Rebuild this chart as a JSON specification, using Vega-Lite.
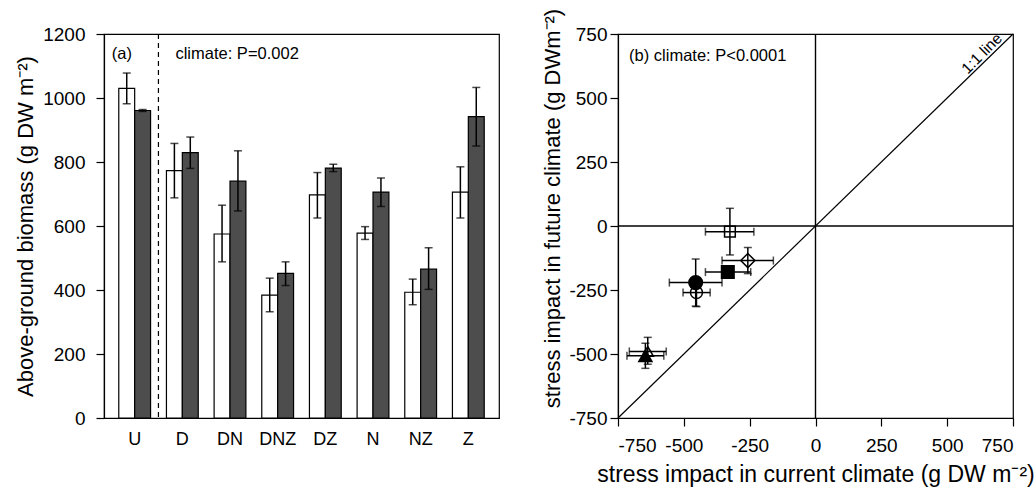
{
  "$schema": "https://vega.github.io/schema/vega-lite/v6.json",
  "background": "white",
  "padding": {"left": 14, "top": 4, "right": 0, "bottom": 0},
  "spacing": 41,
  "resolve": {"scale": {"fill": "independent", "shape": "independent", "size": "independent"}},
  "config": {
    "font": "Liberation Sans",
    "view": {"stroke": "black", "strokeWidth": 1.2},
    "axis": {
      "grid": false,
      "domainColor": "black",
      "domainWidth": 1.2,
      "tickColor": "black",
      "tickWidth": 1.2,
      "tickSize": 8,
      "labelColor": "black",
      "labelFontSize": 19,
      "labelFont": "Liberation Sans",
      "titleColor": "black",
      "titleFontSize": 22,
      "titleFontWeight": "normal",
      "titleFont": "Liberation Sans"
    }
  },
  "hconcat": [
    {
      "width": 395,
      "height": 384,
      "data": {
        "values": [
          {"treatment": "U", "climate": "current", "biomass": 1030, "lo": 982, "hi": 1078},
          {"treatment": "U", "climate": "future", "biomass": 961, "lo": 958, "hi": 964},
          {"treatment": "D", "climate": "current", "biomass": 773, "lo": 688, "hi": 858},
          {"treatment": "D", "climate": "future", "biomass": 829, "lo": 780, "hi": 878},
          {"treatment": "DN", "climate": "current", "biomass": 575, "lo": 488, "hi": 665},
          {"treatment": "DN", "climate": "future", "biomass": 740, "lo": 647, "hi": 835},
          {"treatment": "DNZ", "climate": "current", "biomass": 384, "lo": 332, "hi": 437},
          {"treatment": "DNZ", "climate": "future", "biomass": 452, "lo": 414, "hi": 488},
          {"treatment": "DZ", "climate": "current", "biomass": 697, "lo": 625, "hi": 767},
          {"treatment": "DZ", "climate": "future", "biomass": 781, "lo": 770, "hi": 793},
          {"treatment": "N", "climate": "current", "biomass": 578, "lo": 558, "hi": 598},
          {"treatment": "N", "climate": "future", "biomass": 706, "lo": 661, "hi": 750},
          {"treatment": "NZ", "climate": "current", "biomass": 393, "lo": 354, "hi": 434},
          {"treatment": "NZ", "climate": "future", "biomass": 465, "lo": 402, "hi": 532},
          {"treatment": "Z", "climate": "current", "biomass": 706, "lo": 625, "hi": 785},
          {"treatment": "Z", "climate": "future", "biomass": 942, "lo": 850, "hi": 1033}
        ]
      },
      "layer": [
        {
          "mark": {"type": "bar", "stroke": "black", "strokeWidth": 1.2},
          "encoding": {
            "x": {
              "field": "treatment", "type": "nominal",
              "scale": {"domain": ["U", "D", "DN", "DNZ", "DZ", "N", "NZ", "Z"], "paddingInner": 0.333, "paddingOuter": 0.31},
              "axis": {"title": null, "ticks": false, "labelAngle": 0, "labelPadding": 12, "labelFontSize": 18}
            },
            "xOffset": {"field": "climate", "type": "nominal", "scale": {"domain": ["current", "future"]}},
            "y": {
              "field": "biomass", "type": "quantitative",
              "scale": {"domain": [0, 1200], "nice": false},
              "axis": {"title": "Above-ground biomass (g DW m⁻²)", "values": [0, 200, 400, 600, 800, 1000, 1200], "format": "d", "labelPadding": 11, "titlePadding": 5}
            },
            "fill": {"field": "climate", "type": "nominal", "scale": {"domain": ["current", "future"], "range": ["white", "#4d4d4d"]}, "legend": null}
          }
        },
        {
          "mark": {"type": "rule", "color": "black", "strokeWidth": 1.5},
          "encoding": {
            "x": {"field": "treatment", "type": "nominal", "scale": {"domain": ["U", "D", "DN", "DNZ", "DZ", "N", "NZ", "Z"], "paddingInner": 0.333, "paddingOuter": 0.31}},
            "xOffset": {"field": "climate", "type": "nominal", "scale": {"domain": ["current", "future"]}},
            "y": {"field": "lo", "type": "quantitative", "scale": {"domain": [0, 1200], "nice": false}},
            "y2": {"field": "hi"}
          }
        },
        {
          "mark": {"type": "tick", "color": "black", "size": 8, "thickness": 1.5, "orient": "horizontal"},
          "encoding": {
            "x": {"field": "treatment", "type": "nominal", "scale": {"domain": ["U", "D", "DN", "DNZ", "DZ", "N", "NZ", "Z"], "paddingInner": 0.333, "paddingOuter": 0.31}},
            "xOffset": {"field": "climate", "type": "nominal", "scale": {"domain": ["current", "future"]}},
            "y": {"field": "lo", "type": "quantitative", "scale": {"domain": [0, 1200], "nice": false}}
          }
        },
        {
          "mark": {"type": "tick", "color": "black", "size": 8, "thickness": 1.5, "orient": "horizontal"},
          "encoding": {
            "x": {"field": "treatment", "type": "nominal", "scale": {"domain": ["U", "D", "DN", "DNZ", "DZ", "N", "NZ", "Z"], "paddingInner": 0.333, "paddingOuter": 0.31}},
            "xOffset": {"field": "climate", "type": "nominal", "scale": {"domain": ["current", "future"]}},
            "y": {"field": "hi", "type": "quantitative", "scale": {"domain": [0, 1200], "nice": false}}
          }
        },
        {
          "data": {"values": [{"treatment": "D"}]},
          "mark": {"type": "rule", "color": "black", "strokeWidth": 1.2, "strokeDash": [5, 4], "xOffset": -8},
          "encoding": {
            "x": {"field": "treatment", "type": "nominal", "bandPosition": 0, "scale": {"domain": ["U", "D", "DN", "DNZ", "DZ", "N", "NZ", "Z"], "paddingInner": 0.333, "paddingOuter": 0.31}}
          }
        },
        {
          "data": {"values": [{"treatment": "U", "biomass": 1136, "label": "(a)"}]},
          "mark": {"type": "text", "align": "left", "baseline": "middle", "fontSize": 16.5, "dx": -7, "color": "black"},
          "encoding": {
            "x": {"field": "treatment", "type": "nominal", "bandPosition": 0, "scale": {"domain": ["U", "D", "DN", "DNZ", "DZ", "N", "NZ", "Z"], "paddingInner": 0.333, "paddingOuter": 0.31}},
            "y": {"field": "biomass", "type": "quantitative", "scale": {"domain": [0, 1200], "nice": false}},
            "text": {"field": "label"}
          }
        },
        {
          "data": {"values": [{"treatment": "D", "biomass": 1136, "label": "climate: P=0.002"}]},
          "mark": {"type": "text", "align": "left", "baseline": "middle", "fontSize": 16.5, "dx": 9, "color": "black"},
          "encoding": {
            "x": {"field": "treatment", "type": "nominal", "bandPosition": 0, "scale": {"domain": ["U", "D", "DN", "DNZ", "DZ", "N", "NZ", "Z"], "paddingInner": 0.333, "paddingOuter": 0.31}},
            "y": {"field": "biomass", "type": "quantitative", "scale": {"domain": [0, 1200], "nice": false}},
            "text": {"field": "label"}
          }
        }
      ]
    },
    {
      "width": 395,
      "height": 384,
      "data": {
        "values": [
          {"treatment": "D", "x": -257, "xlo": -355, "xhi": -160, "y": -135, "ylo": -186, "yhi": -84},
          {"treatment": "DN", "x": -455, "xlo": -555, "xhi": -355, "y": -221, "ylo": -313, "yhi": -129},
          {"treatment": "DNZ", "x": -646, "xlo": -716, "xhi": -576, "y": -507, "ylo": -556, "yhi": -458},
          {"treatment": "DZ", "x": -333, "xlo": -418, "xhi": -246, "y": -180, "ylo": -195, "yhi": -165},
          {"treatment": "N", "x": -452, "xlo": -503, "xhi": -400, "y": -260, "ylo": -315, "yhi": -205},
          {"treatment": "NZ", "x": -637, "xlo": -707, "xhi": -567, "y": -490, "ylo": -540, "yhi": -435},
          {"treatment": "Z", "x": -325, "xlo": -418, "xhi": -234, "y": -22, "ylo": -113, "yhi": 69}
        ]
      },
      "layer": [
        {
          "data": {"values": [{"x": 0}]},
          "mark": {"type": "rule", "color": "black", "strokeWidth": 1.4},
          "encoding": {
            "x": {"field": "x", "type": "quantitative", "title": "stress impact in current climate  (g DW m⁻²)", "scale": {"domain": [-750, 750], "nice": false},
              "axis": {"values": [-750, -500, -250, 0, 250, 500, 750], "labelExpr": "datum.value + ''", "labelPadding": 10, "titlePadding": 8, "titleFontSize": 23}}
          }
        },
        {
          "data": {"values": [{"y": 0}]},
          "mark": {"type": "rule", "color": "black", "strokeWidth": 1.4},
          "encoding": {
            "y": {"field": "y", "type": "quantitative", "title": "stress impact in future climate  (g DWm⁻²)", "scale": {"domain": [-750, 750], "nice": false},
              "axis": {"values": [-750, -500, -250, 0, 250, 500, 750], "labelExpr": "datum.value + ''", "labelPadding": 3, "titlePadding": 4, "titleY": 174}}
          }
        },
        {
          "data": {"values": [{"x": -750, "y": -750, "xe": 750, "ye": 750}]},
          "mark": {"type": "rule", "color": "black", "strokeWidth": 1.2},
          "encoding": {
            "x": {"field": "x", "type": "quantitative", "title": "stress impact in current climate  (g DW m⁻²)", "scale": {"domain": [-750, 750], "nice": false}},
            "y": {"field": "y", "type": "quantitative", "title": "stress impact in future climate  (g DWm⁻²)", "scale": {"domain": [-750, 750], "nice": false}},
            "x2": {"field": "xe"},
            "y2": {"field": "ye"}
          }
        },
        {
          "mark": {"type": "point", "filled": true, "stroke": "black", "strokeWidth": 1.5, "opacity": 1, "fillOpacity": 1, "strokeOpacity": 1},
          "encoding": {
            "x": {"field": "x", "type": "quantitative", "title": "stress impact in current climate  (g DW m⁻²)", "scale": {"domain": [-750, 750], "nice": false}},
            "y": {"field": "y", "type": "quantitative", "title": "stress impact in future climate  (g DWm⁻²)", "scale": {"domain": [-750, 750], "nice": false}},
            "shape": {"field": "treatment", "type": "nominal", "legend": null,
              "scale": {"domain": ["D", "DN", "DNZ", "DZ", "N", "NZ", "Z"], "range": ["diamond", "circle", "triangle-up", "square", "circle", "triangle-up", "square"]}},
            "fill": {"field": "treatment", "type": "nominal", "legend": null,
              "scale": {"domain": ["D", "DN", "DNZ", "DZ", "N", "NZ", "Z"], "range": ["transparent", "black", "black", "black", "transparent", "transparent", "transparent"]}},
            "size": {"field": "treatment", "type": "nominal", "legend": null,
              "scale": {"domain": ["D", "DN", "DNZ", "DZ", "N", "NZ", "Z"], "range": [200, 115, 140, 100, 115, 140, 100]}}
          }
        },
        {
          "mark": {"type": "rule", "color": "black", "strokeWidth": 1.5},
          "encoding": {
            "x": {"field": "xlo", "type": "quantitative", "title": "stress impact in current climate  (g DW m⁻²)", "scale": {"domain": [-750, 750], "nice": false}},
            "x2": {"field": "xhi"},
            "y": {"field": "y", "type": "quantitative", "title": "stress impact in future climate  (g DWm⁻²)", "scale": {"domain": [-750, 750], "nice": false}}
          }
        },
        {
          "mark": {"type": "rule", "color": "black", "strokeWidth": 1.5},
          "encoding": {
            "x": {"field": "x", "type": "quantitative", "title": "stress impact in current climate  (g DW m⁻²)", "scale": {"domain": [-750, 750], "nice": false}},
            "y": {"field": "ylo", "type": "quantitative", "title": "stress impact in future climate  (g DWm⁻²)", "scale": {"domain": [-750, 750], "nice": false}},
            "y2": {"field": "yhi"}
          }
        },
        {
          "mark": {"type": "tick", "color": "black", "size": 8, "thickness": 1.5, "orient": "vertical"},
          "encoding": {
            "x": {"field": "xlo", "type": "quantitative", "title": "stress impact in current climate  (g DW m⁻²)", "scale": {"domain": [-750, 750], "nice": false}},
            "y": {"field": "y", "type": "quantitative", "title": "stress impact in future climate  (g DWm⁻²)", "scale": {"domain": [-750, 750], "nice": false}}
          }
        },
        {
          "mark": {"type": "tick", "color": "black", "size": 8, "thickness": 1.5, "orient": "vertical"},
          "encoding": {
            "x": {"field": "xhi", "type": "quantitative", "title": "stress impact in current climate  (g DW m⁻²)", "scale": {"domain": [-750, 750], "nice": false}},
            "y": {"field": "y", "type": "quantitative", "title": "stress impact in future climate  (g DWm⁻²)", "scale": {"domain": [-750, 750], "nice": false}}
          }
        },
        {
          "mark": {"type": "tick", "color": "black", "size": 8, "thickness": 1.5, "orient": "horizontal"},
          "encoding": {
            "x": {"field": "x", "type": "quantitative", "title": "stress impact in current climate  (g DW m⁻²)", "scale": {"domain": [-750, 750], "nice": false}},
            "y": {"field": "ylo", "type": "quantitative", "title": "stress impact in future climate  (g DWm⁻²)", "scale": {"domain": [-750, 750], "nice": false}}
          }
        },
        {
          "mark": {"type": "tick", "color": "black", "size": 8, "thickness": 1.5, "orient": "horizontal"},
          "encoding": {
            "x": {"field": "x", "type": "quantitative", "title": "stress impact in current climate  (g DW m⁻²)", "scale": {"domain": [-750, 750], "nice": false}},
            "y": {"field": "yhi", "type": "quantitative", "title": "stress impact in future climate  (g DWm⁻²)", "scale": {"domain": [-750, 750], "nice": false}}
          }
        },
        {
          "data": {"values": [{"x": 645, "y": 660, "label": "1:1 line"}]},
          "mark": {"type": "text", "align": "center", "baseline": "alphabetic", "angle": 315, "fontSize": 15.5, "color": "black"},
          "encoding": {
            "x": {"field": "x", "type": "quantitative", "title": "stress impact in current climate  (g DW m⁻²)", "scale": {"domain": [-750, 750], "nice": false}},
            "y": {"field": "y", "type": "quantitative", "title": "stress impact in future climate  (g DWm⁻²)", "scale": {"domain": [-750, 750], "nice": false}},
            "text": {"field": "label"}
          }
        },
        {
          "data": {"values": [{"x": -708, "y": 664, "label": "(b)  climate: P<0.0001"}]},
          "mark": {"type": "text", "align": "left", "baseline": "middle", "fontSize": 16.5, "color": "black"},
          "encoding": {
            "x": {"field": "x", "type": "quantitative", "title": "stress impact in current climate  (g DW m⁻²)", "scale": {"domain": [-750, 750], "nice": false}},
            "y": {"field": "y", "type": "quantitative", "title": "stress impact in future climate  (g DWm⁻²)", "scale": {"domain": [-750, 750], "nice": false}},
            "text": {"field": "label"}
          }
        }
      ]
    }
  ]
}
